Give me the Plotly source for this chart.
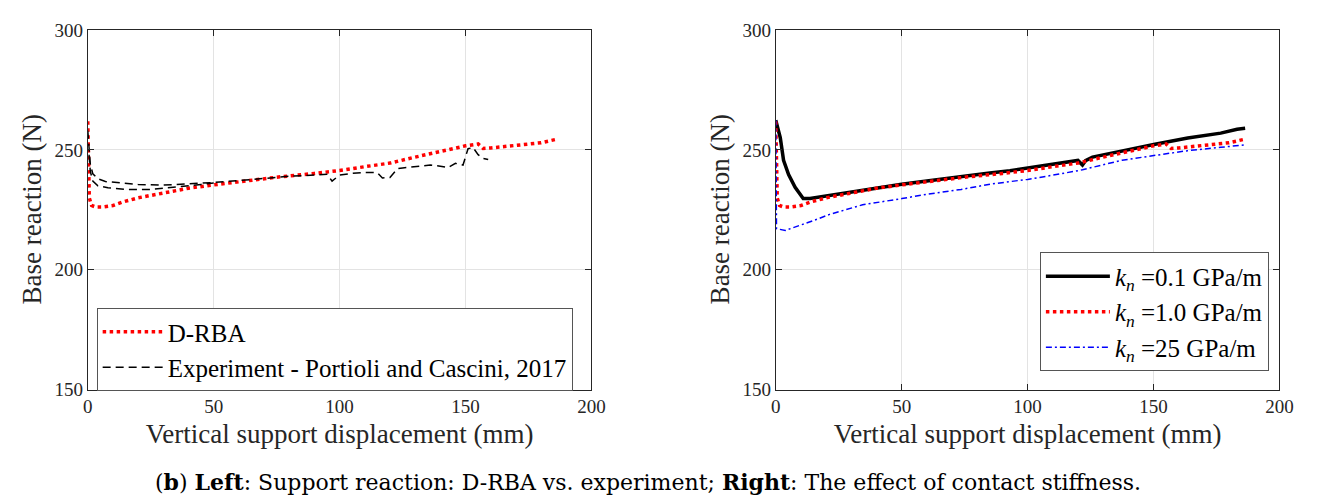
import plotly.graph_objects as go

# ---------------- data ----------------
drba_x = [0, 0.3, 0.6, 1.5, 3, 6, 10, 14, 20, 30, 40, 50, 60, 75, 90, 100, 110, 120, 130, 140,
          150, 155, 157, 160, 170, 180, 186]
drba_y = [262, 245, 230, 226.8, 226.2, 226.2, 226.8, 228.3, 230, 232, 234, 235.4, 236.8, 238.6,
          240.2, 241.4, 243, 244.5, 247, 249.5, 251.7, 252.5, 250.6, 250.8, 251.8, 253, 254.4]

expA_x = [0, 0.5, 1, 2, 4, 7, 12, 20, 30, 40, 50, 60, 70, 80, 90, 95, 97, 100, 105, 110, 115, 117,
          120, 123, 125, 130, 136, 140, 143, 146, 149, 151, 153, 155, 157, 159]
expA_y = [258, 250, 244, 240, 238, 236.8, 236.3, 235.6, 235.3, 235.8, 236.4, 237.2, 238.2, 239,
          239.5, 239.8, 237, 239.5, 240.2, 240.6, 240.5, 238.3, 238.5, 242.2, 242.5, 243, 243.7,
          243.2, 242.6, 244.4, 243.7, 250.5, 251, 248, 246.4, 246]
expB_x = [0.5, 1, 2, 4, 8, 15, 25, 35, 45, 50]
expB_y = [248, 241, 237, 235, 234.2, 233.5, 233.5, 234.4, 235.6, 236.2]

k01_x = [0, 0.5, 1.8, 3.1, 5.1, 7.7, 10.9, 13.6, 21.4, 30, 38.4, 50, 60, 73.6, 85, 93, 100, 110,
         117.9, 120, 121.8, 123, 125.8, 134.9, 140, 150.6, 163.6, 176.7, 183.2, 186.4]
k01_y = [262.4, 260, 255.1, 245.7, 239.7, 234.4, 229.7, 229.7, 231, 232.6, 234, 235.7, 237, 239,
         240.4, 241.3, 242.4, 243.8, 245.4, 245.6, 243.7, 245.5, 247, 249, 250.2, 252.4, 255, 257,
         258.6, 259]

k25_x = [0, 0.1, 0.3, 3.8, 8.3, 15, 21.4, 34.5, 50.1, 60, 73.6, 85.3, 93.2, 100, 111.4, 121.8,
         137.5, 150.6, 163.6, 176.7, 186.4]
k25_y = [262.4, 240, 217.1, 216.4, 218, 220.5, 223.1, 227.1, 229.7, 231.5, 233.5, 235.7, 236.8,
         237.7, 239.7, 241.7, 245.7, 247.7, 249.7, 251.1, 252.1]

x_ticks = [0, 50, 100, 150, 200]
y_ticks = [150, 200, 250, 300]

FONT = "Liberation Serif"
CAP_FONT = "DejaVu Serif"
AXC = "#262626"

fig = go.Figure()

# Left panel
fig.add_trace(go.Scatter(x=drba_x, y=drba_y, mode="lines", name="D-RBA",
                         line=dict(color="red", width=3.5, dash="dot"),
                         xaxis="x", yaxis="y", legend="legend"))
fig.add_trace(go.Scatter(x=expA_x, y=expA_y, mode="lines",
                         name="Experiment - Portioli and Cascini, 2017",
                         line=dict(color="black", width=1.5, dash="8px,5px"),
                         legendgroup="exp", xaxis="x", yaxis="y", legend="legend"))
fig.add_trace(go.Scatter(x=expB_x, y=expB_y, mode="lines", showlegend=False,
                         line=dict(color="black", width=1.5, dash="8px,5px"),
                         legendgroup="exp", xaxis="x", yaxis="y"))

# Right panel
fig.add_trace(go.Scatter(x=k01_x, y=k01_y, mode="lines",
                         name="<i>k</i><sub><i>n</i></sub> =0.1 GPa/m",
                         line=dict(color="black", width=3.5),
                         xaxis="x2", yaxis="y2", legend="legend2"))
fig.add_trace(go.Scatter(x=drba_x, y=drba_y, mode="lines",
                         name="<i>k</i><sub><i>n</i></sub> =1.0 GPa/m",
                         line=dict(color="red", width=3.5, dash="dot"),
                         xaxis="x2", yaxis="y2", legend="legend2"))
fig.add_trace(go.Scatter(x=k25_x, y=k25_y, mode="lines",
                         name="<i>k</i><sub><i>n</i></sub> =25 GPa/m",
                         line=dict(color="blue", width=1.5, dash="6px,3px,2px,3px"),
                         xaxis="x2", yaxis="y2", legend="legend2"))

W, H = 1320, 504
ydom = [(504 - 396) / H, (504 - 21) / H]
ymid = (ydom[0] + ydom[1]) / 2

def xax(domain, anchor):
    return dict(domain=domain, anchor=anchor, range=[0, 200], tickvals=x_ticks,
                showgrid=True, gridcolor="#e3e3e3", gridwidth=1, zeroline=False,
                showline=True, linecolor=AXC, linewidth=1, mirror="ticks",
                ticks="inside", ticklen=6, tickcolor=AXC,
                tickfont=dict(family=FONT, size=19, color=AXC),
                title=dict(text="Vertical support displacement (mm)",
                           font=dict(family=FONT, size=27, color=AXC), standoff=7))

def yax(anchor):
    return dict(domain=ydom, anchor=anchor, range=[150, 300], tickvals=y_ticks,
                showgrid=True, gridcolor="#e3e3e3", gridwidth=1, zeroline=False,
                showline=True, linecolor=AXC, linewidth=1, mirror="ticks",
                ticks="inside", ticklen=6, tickcolor=AXC,
                tickfont=dict(family=FONT, size=19, color=AXC))

def ytitle(xpx):
    return dict(text="Base reaction (N)", x=xpx / W, y=ymid, xref="paper", yref="paper",
                xanchor="center", yanchor="middle", textangle=-90, showarrow=False,
                font=dict(family=FONT, size=27, color=AXC))

fig.update_layout(
    width=W, height=H,
    margin=dict(l=0, r=0, t=0, b=0),
    plot_bgcolor="white", paper_bgcolor="white",
    xaxis=xax([84 / W, 595 / W], "y"),
    yaxis=yax("x"),
    xaxis2=xax([782 / W, 1293 / W], "y2"),
    yaxis2=yax("x2"),
    legend=dict(x=93 / W, y=(504 - 311) / H, xanchor="left", yanchor="top",
                bgcolor="white", bordercolor="#555555", borderwidth=1,
                font=dict(family=FONT, size=25, color="black"), itemwidth=60,
                tracegroupgap=0),
    legend2=dict(x=1050 / W, y=(504 - 253) / H, xanchor="left", yanchor="top",
                 bgcolor="white", bordercolor="#555555", borderwidth=1,
                 font=dict(family=FONT, size=25, color="black"), itemwidth=64,
                 tracegroupgap=0),
    annotations=[
        ytitle(27),
        ytitle(725),
        dict(text="(<b>b</b>) <b>Left</b>: Support reaction: D-RBA vs. experiment; "
                  "<b>Right</b>: The effect of contact stiffness.",
             x=652 / W, y=(504 - 493) / H, xref="paper", yref="paper",
             xanchor="center", yanchor="middle", showarrow=False,
             font=dict(family=CAP_FONT, size=22, color="black"))],
)

fig.write_html("out.html")
